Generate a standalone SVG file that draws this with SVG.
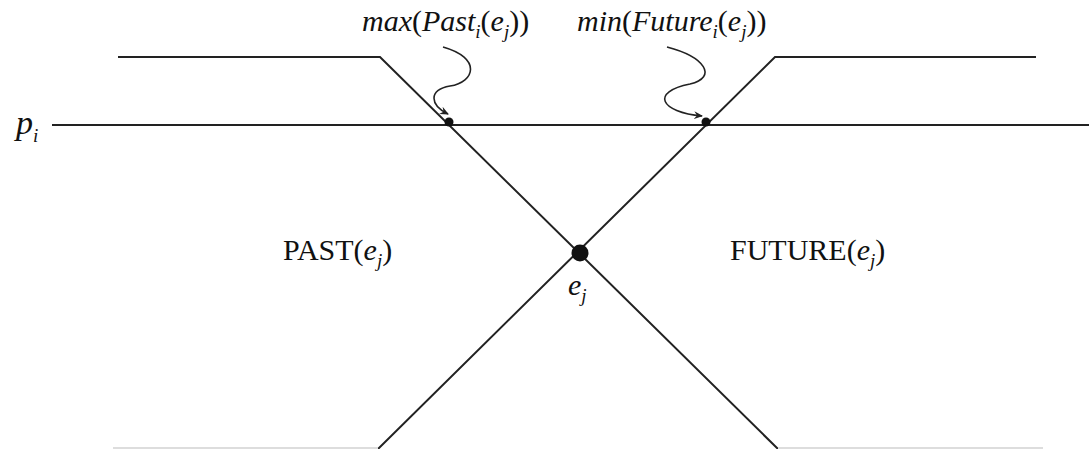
<svg xmlns="http://www.w3.org/2000/svg" width="1089" height="449" viewBox="0 0 1089 449">
<style>
.ln{stroke:#222;stroke-width:2;fill:none}
.fl{stroke:#ddd;stroke-width:2;fill:none}
.sq{stroke:#222;stroke-width:1.6;fill:none}
.t{font-family:"Liberation Serif","Times New Roman",serif;font-size:30px;fill:#111}
.it{font-style:italic}
.up{font-style:normal}
.sub{font-size:19px;font-style:italic}
</style>
<defs>
<marker id="ah" markerWidth="10" markerHeight="10" refX="8" refY="5" orient="auto" markerUnits="userSpaceOnUse">
<path d="M0,1 L9,5 L0,9 L3,5 Z" fill="#222"/>
</marker>
</defs>
<g id="connectors">
<path class="ln" d="M118,57 H380 L778,449"/>
<path class="ln" d="M1036,57 H775 L378,449"/>
<path class="ln" d="M52,125 H1089"/>
<path class="fl" d="M113,448 H378 M778,448 H1043"/>
<path class="sq" marker-end="url(#ah)" d="M443,47 C482,58 475,82 450,86 C428,90 430,105 448,114"/>
<path class="sq" marker-end="url(#ah)" d="M667,47 C705,57 718,77 690,84 C650,92 660,112 702,116"/>
</g>
<g id="dot-past"><circle cx="449" cy="122" r="4.5" fill="#111"/></g>
<g id="dot-future"><circle cx="706" cy="122" r="4.5" fill="#111"/></g>
<g id="ej"><circle cx="580" cy="253" r="8.5" fill="#111"/>
<text class="t it" x="568" y="295">e<tspan class="sub" dy="7">j</tspan></text></g>
<g id="pi"><text class="t it" x="16" y="134" style="font-size:34px">p<tspan class="sub" dy="8">i</tspan></text></g>
<g id="label-max"><text class="t it" x="362" y="31">max<tspan class="up">(</tspan>Past<tspan class="sub" dy="7">i</tspan><tspan class="up" dy="-7">(</tspan>e<tspan class="sub" dy="7">j</tspan><tspan class="up" dy="-7">))</tspan></text></g>
<g id="label-min"><text class="t it" x="577" y="31">min<tspan class="up">(</tspan>Future<tspan class="sub" dy="7">i</tspan><tspan class="up" dy="-7">(</tspan>e<tspan class="sub" dy="7">j</tspan><tspan class="up" dy="-7">))</tspan></text></g>
<g id="past"><text class="t" x="283" y="260">PAST(<tspan class="it">e</tspan><tspan class="sub" dy="7">j</tspan><tspan dy="-7">)</tspan></text></g>
<g id="future"><text class="t" x="730" y="260">FUTURE(<tspan class="it">e</tspan><tspan class="sub" dy="7">j</tspan><tspan dy="-7">)</tspan></text></g>
</svg>
